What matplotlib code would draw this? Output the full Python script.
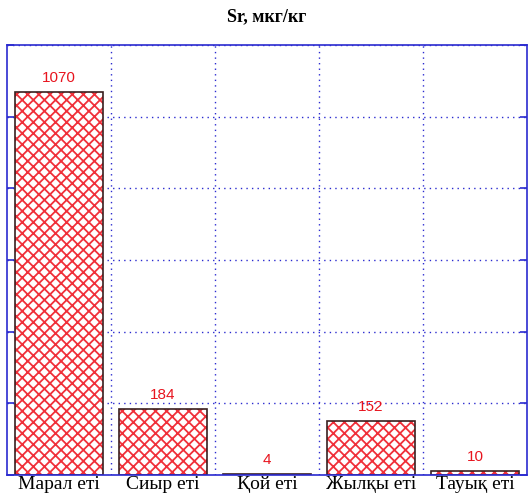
import numpy as np
import matplotlib.pyplot as plt

categories = ['Марал еті', 'Сиыр еті', 'Қой еті', 'Жылқы еті', 'Тауық еті']
values = [1070, 184, 4, 152, 10]
labels = ['1070', '184', '4', '152', '10']

blue = '#2b2bd0'
red = '#e8141e'

plt.rcParams['hatch.linewidth'] = 1.3

fig = plt.figure(figsize=(5.28, 4.96), dpi=100)
ax = fig.add_axes([7/528, 21/496, 520/528, 430/496])

x = np.arange(len(categories))
ax.bar(x, values, width=0.85, color='white', edgecolor='#f0303a', hatch='xxx', linewidth=0)
ax.bar(x, values, width=0.85, fill=False, edgecolor='#3a2020', linewidth=1.2)

for xi, v, t in zip(x, values, labels):
    ax.annotate(t, (xi, v), xytext=(0, 5), textcoords='offset points',
                ha='center', va='bottom', color=red, fontsize=11,
                family='Liberation Sans')

ax.set_xlim(-0.5, 4.5)
ax.set_ylim(0, 1200)
ax.set_yticks(np.arange(0, 1201, 200))
ax.set_yticklabels([])
ax.set_xticks(x)
ax.set_xticklabels(categories, family='Liberation Serif', fontsize=14)
ax.set_xticks(x[:-1] + 0.5, minor=True)
ax.tick_params(axis='x', which='both', length=0, pad=1)
ax.tick_params(axis='y', direction='in', length=5, color=blue, width=1.2,
               right=True)
ax.grid(axis='y', color=blue, linestyle=(0, (1, 3)), linewidth=1)
ax.grid(axis='x', which='minor', color=blue, linestyle=(0, (1, 3)), linewidth=1)
ax.set_axisbelow(True)
for s in ax.spines.values():
    s.set_color(blue)
    s.set_linewidth(1.2)

ax.set_title('Sr, мкг/кг', family='Liberation Serif', fontweight='bold',
             fontsize=13, pad=17)

fig.savefig('out.png', dpi=100)
